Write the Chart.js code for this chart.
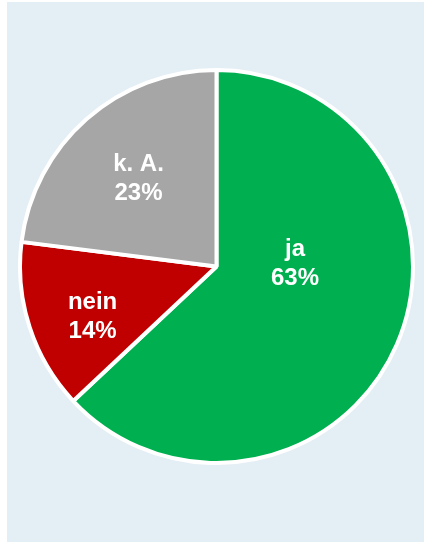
<!DOCTYPE html>
<html>
<head>
<meta charset="utf-8">
<script src="https://cdn.jsdelivr.net/npm/chart.js@4/dist/chart.umd.min.js"></script>
<style>
  html, body { margin: 0; padding: 0; background: #ffffff; }
  #panel { position: absolute; left: 7px; top: 2px; width: 417px; height: 540px; background: #e4eef5; }
  #wrap { position: absolute; left: 18px; top: 68px; width: 397px; height: 397px; }
</style>
</head>
<body>
<div id="panel"></div>
<div id="wrap"><canvas id="pie"></canvas></div>
<script>
// data
const categories = ["ja", "nein", "k. A."];
const shares = [63, 14, 23];
const sliceColors = ["#00b050", "#c00000", "#a6a6a6"];

// where each label sits inside its slice (fraction of radius, angle shift in degrees)
const labelRadius = [0.40, 0.68, 0.60];
const labelShift = [-26, -4, 0];

// draws "name / value%" in the middle of each slice
const sliceLabels = {
  id: "sliceLabels",
  afterDatasetsDraw(chart) {
    const ctx = chart.ctx;
    const meta = chart.getDatasetMeta(0);
    ctx.save();
    ctx.fillStyle = "#ffffff";
    ctx.font = "bold 24px 'Liberation Sans', Arial, sans-serif";
    ctx.textAlign = "center";
    ctx.textBaseline = "middle";
    meta.data.forEach(function (arc, i) {
      const p = arc.getProps(["x", "y", "startAngle", "endAngle", "outerRadius"], true);
      const mid = (p.startAngle + p.endAngle) / 2 + labelShift[i] * Math.PI / 180;
      const r = p.outerRadius * labelRadius[i];
      const x = p.x + Math.cos(mid) * r;
      const y = p.y + Math.sin(mid) * r;
      ctx.fillText(categories[i], x, y - 14);
      ctx.fillText(shares[i] + "%", x, y + 15);
    });
    ctx.restore();
  }
};

new Chart(document.getElementById("pie"), {
  type: "pie",
  data: {
    labels: categories,
    datasets: [{
      data: shares,
      backgroundColor: sliceColors,
      borderColor: "#ffffff",
      borderWidth: 4
    }]
  },
  options: {
    responsive: true,
    maintainAspectRatio: false,
    animation: false,
    layout: { padding: 0 },
    plugins: {
      legend: { display: false },
      tooltip: { enabled: false }
    }
  },
  plugins: [sliceLabels]
});
</script>
</body>
</html>
